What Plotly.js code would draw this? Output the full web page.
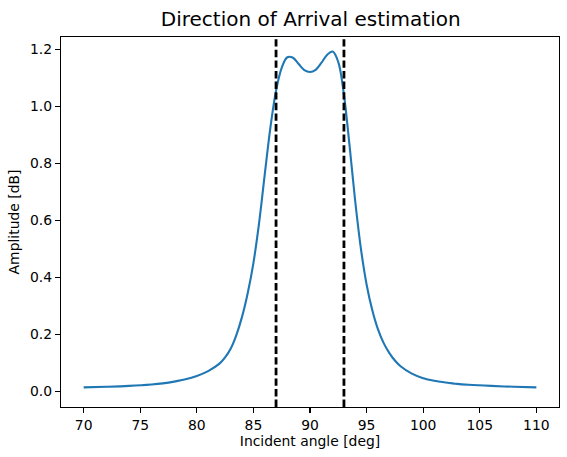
<!DOCTYPE html>
<html>
<head>
<meta charset="utf-8">
<script src="https://cdn.plot.ly/plotly-3.0.1.min.js"></script>
<style>html,body{margin:0;padding:0;background:#fff;}#chart{width:567px;height:457px;}</style>
</head>
<body>
<div id="chart"></div>
<script>
// Incident angle (deg)
const angles = [70, 72, 74, 76, 77, 78, 79, 80, 81, 82, 82.5, 83, 83.5, 84, 84.5, 85, 85.5, 86, 86.5, 87, 87.5, 88, 88.5, 89, 89.5, 90, 90.5, 91, 91.5, 92, 92.5, 93, 93.5, 94, 94.5, 95, 95.5, 96, 96.5, 97, 97.5, 98, 99, 100, 101, 102, 103, 104, 106, 108, 110];
// Estimated amplitude
const amplitude = [0.014, 0.016, 0.019, 0.024, 0.028, 0.034, 0.042, 0.054, 0.071, 0.097, 0.119, 0.150, 0.198, 0.262, 0.345, 0.450, 0.590, 0.760, 0.925, 1.055, 1.135, 1.172, 1.170, 1.148, 1.127, 1.120, 1.128, 1.152, 1.180, 1.192, 1.155, 1.040, 0.860, 0.665, 0.500, 0.375, 0.285, 0.218, 0.170, 0.135, 0.108, 0.088, 0.062, 0.046, 0.037, 0.031, 0.026, 0.023, 0.019, 0.016, 0.014];
// True directions of arrival (dashed markers)
const doaLines = [87, 93];

const xTicks = [70, 75, 80, 85, 90, 95, 100, 105, 110];
const yTicks = [0.0, 0.2, 0.4, 0.6, 0.8, 1.0, 1.2];

const font = {family: 'DejaVu Sans, sans-serif', size: 13.9, color: '#000'};

const traces = [{
  x: angles, y: amplitude, type: 'scatter', mode: 'lines',
  line: {color: '#1f77b4', width: 2.1, shape: 'spline', smoothing: 1},
  hoverinfo: 'skip'
}];

const shapes = doaLines.map(v => ({
  type: 'line', xref: 'x', yref: 'paper', x0: v, x1: v, y0: 0, y1: 1,
  line: {color: '#000', width: 2.8, dash: '7.4px,3.2px'}
}));

const layout = {
  width: 567, height: 457,
  margin: {l: 61, r: 8, t: 37, b: 50},
  paper_bgcolor: '#fff', plot_bgcolor: '#fff',
  font: font,
  showlegend: false,
  title: {text: 'Direction of Arrival estimation', font: {family: 'DejaVu Sans, sans-serif', size: 20, color: '#000'},
          x: 0.548, xanchor: 'center', yref: 'container', y: 0.958, yanchor: 'middle'},
  xaxis: {
    range: [68, 112], tickvals: xTicks, ticktext: xTicks.map(String),
    ticks: 'outside', ticklen: 5, tickwidth: 1.1, tickcolor: '#000',
    showline: true, linecolor: '#000', linewidth: 1.1, mirror: true,
    showgrid: false, zeroline: false,
    title: {text: 'Incident angle [deg]', font: font, standoff: 4},
    automargin: false
  },
  yaxis: {
    range: [-0.055, 1.243], tickvals: yTicks, ticktext: yTicks.map(v => v.toFixed(1)),
    ticks: 'outside', ticklen: 5, tickwidth: 1.1, tickcolor: '#000',
    showline: true, linecolor: '#000', linewidth: 1.1, mirror: true,
    showgrid: false, zeroline: false,
    title: {text: 'Amplitude [dB]', font: font, standoff: 7},
    automargin: false
  },
  shapes: shapes
};

Plotly.newPlot('chart', traces, layout, {staticPlot: true, displayModeBar: false});
</script>
</body>
</html>
